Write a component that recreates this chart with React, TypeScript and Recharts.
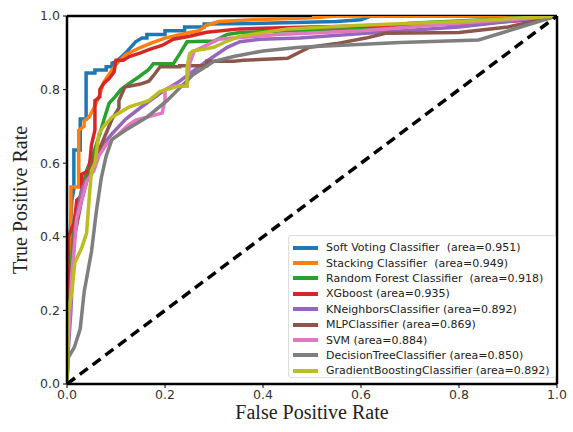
import React from "react";
import { LineChart, Line, XAxis, YAxis, Legend, ReferenceLine, Label } from "recharts";

// ROC points as [fpr, tpr]
const softVoting = [[0,0],[0.003,0.3],[0.006,0.4],[0.01,0.5],[0.014,0.53],[0.014,0.636],[0.027,0.636],[0.027,0.72],[0.039,0.72],[0.039,0.845],[0.057,0.845],[0.057,0.853],[0.08,0.853],[0.08,0.862],[0.092,0.862],[0.092,0.872],[0.1,0.875],[0.12,0.9],[0.14,0.93],[0.153,0.94],[0.163,0.94],[0.163,0.95],[0.2,0.95],[0.2,0.96],[0.24,0.96],[0.24,0.97],[0.28,0.97],[0.28,0.978],[0.4,0.98],[0.55,0.985],[0.6,0.99],[0.62,1],[1,1]];
const stacking = [[0,0],[0.004,0.3],[0.008,0.4],[0.008,0.535],[0.024,0.535],[0.024,0.69],[0.035,0.7],[0.035,0.715],[0.045,0.725],[0.055,0.75],[0.065,0.78],[0.075,0.82],[0.085,0.84],[0.098,0.865],[0.108,0.88],[0.12,0.895],[0.135,0.905],[0.147,0.913],[0.173,0.927],[0.2,0.94],[0.25,0.955],[0.27,0.96],[0.285,0.975],[0.31,0.985],[0.38,0.99],[0.5,0.995],[0.55,1],[1,1]];
const randomForest = [[0,0],[0.005,0.25],[0.01,0.35],[0.015,0.45],[0.025,0.5],[0.04,0.58],[0.055,0.63],[0.067,0.68],[0.075,0.717],[0.086,0.763],[0.098,0.78],[0.11,0.8],[0.127,0.817],[0.147,0.835],[0.167,0.855],[0.176,0.87],[0.217,0.87],[0.23,0.897],[0.245,0.93],[0.3,0.932],[0.327,0.95],[0.353,0.955],[0.45,0.96],[0.6,0.965],[0.7,0.98],[0.85,0.99],[1,1]];
const xgboost = [[0,0],[0.003,0.4],[0.015,0.44],[0.02,0.5],[0.03,0.51],[0.03,0.57],[0.045,0.58],[0.05,0.65],[0.057,0.69],[0.057,0.77],[0.067,0.78],[0.067,0.8],[0.075,0.817],[0.086,0.83],[0.096,0.848],[0.1,0.88],[0.115,0.88],[0.127,0.89],[0.15,0.9],[0.17,0.91],[0.194,0.92],[0.217,0.937],[0.25,0.945],[0.285,0.956],[0.353,0.965],[0.5,0.97],[0.7,0.975],[0.85,0.98],[0.95,0.99],[1,1]];
const kNeighbors = [[0,0],[0.002,0.08],[0.008,0.2],[0.012,0.32],[0.016,0.42],[0.03,0.527],[0.045,0.57],[0.07,0.645],[0.092,0.68],[0.12,0.72],[0.149,0.75],[0.19,0.79],[0.23,0.823],[0.285,0.877],[0.327,0.915],[0.353,0.93],[0.394,0.937],[0.475,0.94],[0.61,0.953],[0.8,0.97],[1,1]];
const mlp = [[0,0],[0.004,0.2],[0.015,0.4],[0.03,0.5],[0.05,0.6],[0.07,0.65],[0.092,0.72],[0.106,0.75],[0.106,0.77],[0.118,0.807],[0.15,0.815],[0.167,0.823],[0.176,0.837],[0.19,0.862],[0.23,0.862],[0.23,0.865],[0.285,0.865],[0.285,0.877],[0.34,0.877],[0.36,0.88],[0.45,0.885],[0.495,0.915],[0.55,0.925],[0.61,0.94],[0.65,0.953],[0.8,0.955],[0.9,0.97],[1,1]];
const svm = [[0,0],[0.002,0.1],[0.01,0.3],[0.02,0.45],[0.04,0.55],[0.055,0.58],[0.065,0.62],[0.08,0.65],[0.106,0.68],[0.122,0.7],[0.14,0.717],[0.194,0.736],[0.2,0.77],[0.2,0.8],[0.217,0.81],[0.245,0.81],[0.25,0.87],[0.26,0.905],[0.31,0.937],[0.34,0.94],[0.43,0.95],[0.6,0.96],[0.8,0.98],[1,1]];
const decisionTree = [[0,0],[0.002,0.07],[0.015,0.1],[0.027,0.15],[0.035,0.25],[0.05,0.36],[0.06,0.47],[0.07,0.56],[0.08,0.62],[0.092,0.665],[0.12,0.69],[0.163,0.725],[0.204,0.77],[0.257,0.84],[0.3,0.877],[0.34,0.89],[0.4,0.905],[0.475,0.915],[0.68,0.928],[0.84,0.935],[1,1]];
const gradientBoosting = [[0,0],[0.003,0.2],[0.01,0.25],[0.016,0.33],[0.03,0.37],[0.04,0.41],[0.045,0.5],[0.05,0.58],[0.057,0.6],[0.065,0.68],[0.075,0.7],[0.092,0.725],[0.127,0.753],[0.167,0.77],[0.19,0.795],[0.23,0.81],[0.245,0.81],[0.245,0.86],[0.25,0.897],[0.257,0.905],[0.3,0.915],[0.327,0.932],[0.353,0.945],[0.45,0.965],[0.6,0.975],[0.8,0.985],[1,1]];
const chance = [[0,0],[1,1]];

const seriesNames = [
  "Soft Voting Classifier  (area=0.951)",
  "Stacking Classifier  (area=0.949)",
  "Random Forest Classifier  (area=0.918)",
  "XGboost (area=0.935)",
  "KNeighborsClassifier (area=0.892)",
  "MLPClassifier (area=0.869)",
  "SVM (area=0.884)",
  "DecisionTreeClassifier (area=0.850)",
  "GradientBoostingClassifier (area=0.892)",
];
const seriesColors = ["#1f77b4","#ff7f0e","#2ca02c","#d62728","#9467bd","#8c564b","#e377c2","#7f7f7f","#bcbd22"];
const seriesPoints = [softVoting, stacking, randomForest, xgboost, kNeighbors, mlp, svm, decisionTree, gradientBoosting];
const axisTicks = [0, 0.2, 0.4, 0.6, 0.8, 1.0];

const toRows = (pts: number[][]) => pts.map(([x, y]) => ({ x, y }));

const tickStyle = { fontSize: 12.5, fontFamily: "DejaVu Sans", fill: "#333" };

const LegendBox = () => (
  <div
    style={{
      border: "1px solid #ddd",
      borderRadius: 3,
      background: "#fff",
      padding: "4px 0 0 4px",
      boxSizing: "border-box",
      width: 268,
      height: 143,
      fontFamily: "DejaVu Sans",
      fontSize: 11,
      color: "#222",
    }}
  >
    {seriesNames.map((n, i) => (
      <div key={n} style={{ display: "flex", alignItems: "center", height: 15.4, whiteSpace: "pre" }}>
        <span style={{ display: "inline-block", width: 25, height: 4, background: seriesColors[i], marginRight: 8 }} />
        <span>{n}</span>
      </div>
    ))}
  </div>
);

export default function App() {
  return (
    <div style={{ position: "absolute", left: 0, top: 0, background: "#fff" }}>
      <LineChart width={573} height={432} margin={{ top: 16, right: 16, left: 0, bottom: 0 }}>
        <XAxis
          dataKey="x"
          type="number"
          domain={[0, 1]}
          ticks={axisTicks}
          tickFormatter={(v: number) => v.toFixed(1)}
          height={48}
          tick={tickStyle}
          tickSize={4}
          tickMargin={2}
          axisLine={{ stroke: "#000", strokeWidth: 2.5 }}
          tickLine={{ stroke: "#000" }}
          allowDataOverflow
        >
          <Label value="False Positive Rate" position="insideBottom" offset={13}
            style={{ fontFamily: "Liberation Serif", fontSize: 20, fill: "#222" }} />
        </XAxis>
        <YAxis
          dataKey="y"
          type="number"
          domain={[0, 1]}
          ticks={axisTicks}
          tickFormatter={(v: number) => v.toFixed(1)}
          width={67}
          tick={tickStyle}
          tickSize={4}
          tickMargin={3}
          axisLine={{ stroke: "#000", strokeWidth: 2.5 }}
          tickLine={{ stroke: "#000" }}
          allowDataOverflow
        >
          <Label value="True Positive Rate" angle={-90} position="insideLeft" offset={20}
            style={{ fontFamily: "Liberation Serif", fontSize: 20, fill: "#222", textAnchor: "middle" }} />
        </YAxis>
        <ReferenceLine y={1} stroke="#000" strokeWidth={2.5} />
        <ReferenceLine x={1} stroke="#000" strokeWidth={2.5} />
        {seriesPoints.map((pts, i) => (
          <Line
            key={seriesNames[i]}
            data={toRows(pts)}
            dataKey="y"
            name={seriesNames[i]}
            type="linear"
            stroke={seriesColors[i]}
            strokeWidth={3.5}
            dot={false}
            activeDot={false}
            isAnimationActive={false}
          />
        ))}
        <Line
          data={toRows(chance)}
          dataKey="y"
          type="linear"
          stroke="#000"
          strokeWidth={3.5}
          strokeDasharray="10 6"
          dot={false}
          activeDot={false}
          legendType="none"
          isAnimationActive={false}
        />
        <Legend
          layout="vertical"
          align="center"
          verticalAlign="middle"
          content={() => <LegendBox />}
          wrapperStyle={{ left: 288, top: 235, width: 268, height: 143 }}
        />
      </LineChart>
    </div>
  );
}
